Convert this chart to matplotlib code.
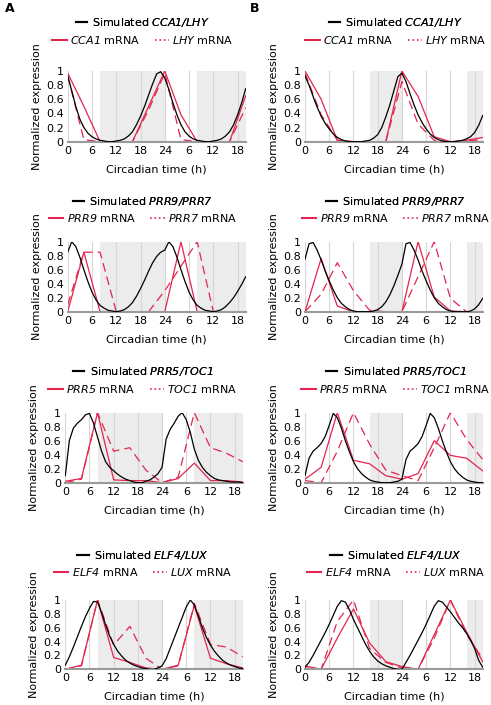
import numpy as np
import matplotlib
matplotlib.use("Agg")
import matplotlib.pyplot as plt
from matplotlib.lines import Line2D

plt.rcParams['font.family'] = ['DejaVu Sans']
plt.rcParams['font.size'] = 7
# gene names are italic, digits included
plt.rcParams['mathtext.fontset'] = 'custom'
plt.rcParams['mathtext.rm'] = 'DejaVu Sans:italic'
plt.rcParams['mathtext.it'] = 'DejaVu Sans:italic'

RED = '#e3254f'
W, H = 491, 705

# time axes (h): simulation hourly, experiments every 4 h
t_sim = np.arange(0, 45, 1)
t_exp = np.arange(0, 45, 4)

xticks = [0, 6, 12, 18, 24, 30, 36, 42]
xticklabels = ['0', '6', '12', '18', '24', '6', '12', '18']
yticks = [0, 0.2, 0.4, 0.6, 0.8, 1]
yticklabels = ['0', '0.2', '0.4', '0.6', '0.8', '1']

genes = [("CCA1/LHY", "CCA1", "LHY"),
         ("PRR9/PRR7", "PRR9", "PRR7"),
         ("PRR5/TOC1", "PRR5", "TOC1"),
         ("ELF4/LUX", "ELF4", "LUX")]

# dark periods: A = short day, B = long day
dark_A = [(8, 24), (32, 44)]
dark_B = [(16, 24), (40, 44)]

# ---------- column A (short day) ----------
simA_cca1 = [0.93, 0.72, 0.5, 0.32, 0.2, 0.12, 0.07, 0.04, 0.02, 0.01, 0.0, 0.0, 0.01, 0.02, 0.04,
             0.08, 0.14, 0.24, 0.36, 0.5, 0.66, 0.82, 0.96, 0.99, 0.9, 0.74, 0.55, 0.38, 0.24, 0.14,
             0.08, 0.04, 0.02, 0.01, 0.0, 0.0, 0.01, 0.02, 0.04, 0.08, 0.14, 0.24, 0.38, 0.55, 0.75]
expA_cca1 = [0.97, 0.5, 0.0, 0.0, 0.0, 0.5, 1.0, 0.38, 0.0, 0.0, 0.0, 0.65]
expA_lhy = [0.93, 0.03, 0.0, 0.0, 0.0, 0.45, 0.97, 0.03, 0.0, 0.0, 0.0, 0.48]

simA_prr9 = [0.85, 1.0, 0.93, 0.78, 0.6, 0.43, 0.28, 0.17, 0.09, 0.05, 0.02, 0.01, 0.0, 0.01, 0.03,
             0.07, 0.13, 0.22, 0.33, 0.45, 0.58, 0.7, 0.79, 0.85, 0.88, 1.0, 0.93, 0.78, 0.6, 0.43,
             0.28, 0.17, 0.09, 0.05, 0.02, 0.01, 0.0, 0.01, 0.03, 0.07, 0.13, 0.2, 0.29, 0.39, 0.5]
expA_prr9 = [0.0, 0.85, 0.0, 0.0, 0.0, 0.0, 0.0, 1.0, 0.0, 0.0, 0.0, 0.0]
expA_prr7 = [0.1, 0.85, 0.85, 0.0, 0.0, 0.0, 0.3, 0.65, 1.0, 0.0, 0.0, 0.0]

simA_prr5 = [0.1, 0.6, 0.78, 0.85, 0.9, 0.97, 0.99, 0.85, 0.65, 0.45, 0.3, 0.22, 0.17, 0.12, 0.08,
             0.05, 0.03, 0.01, 0.0, 0.0, 0.02, 0.04, 0.08, 0.13, 0.22, 0.62, 0.76, 0.85, 0.95, 1.0,
             0.9, 0.72, 0.48, 0.32, 0.22, 0.15, 0.1, 0.06, 0.04, 0.03, 0.02, 0.01, 0.01, 0.01, 0.0]
expA_prr5 = [0.02, 0.06, 1.0, 0.04, 0.03, 0.03, 0.0, 0.06, 0.28, 0.03, 0.03, 0.01]
expA_toc1 = [0.0, 0.05, 1.0, 0.45, 0.5, 0.18, 0.0, 0.08, 1.0, 0.5, 0.42, 0.3]

simA_elf4 = [0.06, 0.18, 0.32, 0.47, 0.62, 0.76, 0.88, 0.98, 0.97, 0.82, 0.64, 0.48, 0.36, 0.26, 0.19,
             0.13, 0.09, 0.06, 0.04, 0.02, 0.01, 0.0, 0.0, 0.02, 0.05, 0.15, 0.3, 0.45, 0.6, 0.75,
             0.9, 1.0, 0.93, 0.77, 0.6, 0.46, 0.35, 0.26, 0.19, 0.13, 0.09, 0.06, 0.04, 0.02, 0.01]
expA_elf4 = [0.0, 0.06, 1.0, 0.17, 0.1, 0.02, 0.0, 0.06, 0.92, 0.16, 0.08, 0.02]
expA_lux = [0.0, 0.05, 1.0, 0.35, 0.62, 0.16, 0.0, 0.05, 0.95, 0.36, 0.32, 0.18]

# ---------- column B (long day) ----------
simB_cca1 = [0.93, 0.8, 0.64, 0.49, 0.36, 0.26, 0.18, 0.11, 0.06, 0.03, 0.01, 0.0, 0.0, 0.0, 0.0,
             0.01, 0.02, 0.05, 0.1, 0.2, 0.35, 0.52, 0.72, 0.92, 0.97, 0.85, 0.68, 0.52, 0.38, 0.27,
             0.18, 0.11, 0.06, 0.03, 0.01, 0.0, 0.0, 0.0, 0.01, 0.02, 0.04, 0.07, 0.13, 0.23, 0.37]
expB_cca1 = [1.0, 0.6, 0.02, 0.0, 0.0, 0.0, 1.0, 0.64, 0.07, 0.0, 0.02, 0.06]
expB_lhy = [0.97, 0.38, 0.02, 0.0, 0.0, 0.0, 0.85, 0.25, 0.02, 0.0, 0.01, 0.03]

simB_prr9 = [0.75, 0.97, 0.99, 0.88, 0.74, 0.58, 0.44, 0.31, 0.2, 0.12, 0.07, 0.03, 0.01, 0.0, 0.0,
             0.0, 0.0, 0.01, 0.03, 0.07, 0.14, 0.24, 0.37, 0.52, 0.68, 0.97, 0.99, 0.88, 0.74, 0.58,
             0.44, 0.31, 0.2, 0.12, 0.07, 0.03, 0.01, 0.0, 0.0, 0.0, 0.0, 0.01, 0.04, 0.1, 0.19]
expB_prr9 = [0.0, 0.76, 0.08, 0.0, 0.0, 0.0, 0.0, 1.0, 0.21, 0.01, 0.0, 0.0]
expB_prr7 = [0.0, 0.25, 0.7, 0.3, 0.02, 0.0, 0.0, 0.5, 1.0, 0.19, 0.0, 0.0]

simB_prr5 = [0.1, 0.35, 0.45, 0.5, 0.56, 0.66, 0.82, 0.99, 0.93, 0.78, 0.6, 0.44, 0.3, 0.2, 0.13,
             0.08, 0.04, 0.02, 0.01, 0.0, 0.0, 0.0, 0.01, 0.02, 0.05, 0.33, 0.45, 0.5, 0.56, 0.66,
             0.82, 0.99, 0.93, 0.78, 0.6, 0.44, 0.3, 0.2, 0.13, 0.08, 0.04, 0.02, 0.01, 0.0, 0.0]
expB_prr5 = [0.05, 0.22, 1.0, 0.32, 0.27, 0.1, 0.05, 0.13, 0.6, 0.39, 0.35, 0.17]
expB_toc1 = [0.03, 0.0, 0.45, 1.0, 0.55, 0.18, 0.1, 0.03, 0.5, 1.0, 0.62, 0.33]

simB_elf4 = [0.03, 0.1, 0.2, 0.31, 0.42, 0.53, 0.65, 0.78, 0.91, 0.99, 0.97, 0.86, 0.72, 0.6, 0.48,
             0.36, 0.26, 0.18, 0.12, 0.08, 0.05, 0.03, 0.01, 0.0, 0.0, 0.1, 0.2, 0.31, 0.42, 0.53,
             0.65, 0.78, 0.91, 0.99, 0.97, 0.9, 0.83, 0.75, 0.67, 0.6, 0.52, 0.42, 0.3, 0.13, 0.03]
expB_elf4 = [0.05, 0.0, 0.45, 0.87, 0.38, 0.11, 0.04, 0.0, 0.5, 1.0, 0.54, 0.11]
expB_lux = [0.02, 0.0, 0.69, 1.0, 0.3, 0.1, 0.02, 0.0, 0.45, 1.0, 0.5, 0.15]

colA = [(simA_cca1, expA_cca1, expA_lhy), (simA_prr9, expA_prr9, expA_prr7),
        (simA_prr5, expA_prr5, expA_toc1), (simA_elf4, expA_elf4, expA_lux)]
colB = [(simB_cca1, expB_cca1, expB_lhy), (simB_prr9, expB_prr9, expB_prr7),
        (simB_prr5, expB_prr5, expB_toc1), (simB_elf4, expB_elf4, expB_lux)]

# layout in pixels
row_top = [71, 241.7, 412.7, 600]
row_bot = [141.7, 311.7, 482.7, 669.3]
a_lr = [(67.7, 245.7), (67.7, 245.7), (65.3, 242.7), (65.3, 242.7)]
b_lr = (305, 482.7)
leg_y = [(22.7, 40), (201, 218.3), (371.7, 389), (555, 571.7)]
leg_x = {'A': 143, 'B': 396}


def rect(l, r, t, b):
    return [l / W, 1 - b / H, (r - l) / W, (b - t) / H]


fig = plt.figure(figsize=(W / 100, H / 100), dpi=100)


def draw_panel(ax, sim, e1, e2, dark, names, col, row):
    for d0, d1 in dark:
        ax.axvspan(d0, d1, color='#ececec', lw=0, zorder=0.2)
    ax.plot(t_sim, sim, color='black', lw=0.9, zorder=3)
    ax.plot(t_exp, e1, color=RED, lw=0.9, zorder=2)
    ax.plot(t_exp, e2, color=RED, lw=0.9, dashes=(7, 4), zorder=2)
    ax.set_xlim(0, 44)
    ax.set_ylim(0, 1)
    ax.set_xticks(xticks)
    ax.set_xticklabels(xticklabels)
    ax.set_yticks(yticks)
    ax.set_yticklabels(yticklabels)
    ax.tick_params(length=0, pad=3, labelsize=8)
    ax.set_axisbelow(True)
    ax.grid(axis='x', color='#d6d6d6', lw=0.8)
    for s in ['top', 'right', 'left']:
        ax.spines[s].set_visible(False)
    ax.spines['bottom'].set_color('#9a9a9a')
    ax.spines['bottom'].set_linewidth(1.5)
    ax.set_xlabel('Circadian time (h)', fontsize=8, labelpad=6)
    ax.set_ylabel('Normalized expression', fontsize=8, labelpad=3)

    sim_name, g1, g2 = names
    x = leg_x[col] / W
    y1, y2 = leg_y[row]
    h_sim = [Line2D([], [], color='black', lw=1.5)]
    leg1 = fig.legend(h_sim, ['Simulated $' + sim_name + '$'],
                      loc='center', bbox_to_anchor=(x, 1 - y1 / H), frameon=False,
                      fontsize=8, handlelength=1.0, handletextpad=0.5, borderpad=0)
    h_exp = [Line2D([], [], color=RED, lw=1.5),
             Line2D([], [], color=RED, lw=1.2, linestyle=':')]
    fig.legend(h_exp, ['$' + g1 + '$ mRNA', '$' + g2 + '$ mRNA'],
               loc='center', bbox_to_anchor=(x, 1 - y2 / H), frameon=False, ncol=2,
               fontsize=8, handlelength=1.3, handletextpad=0.3, columnspacing=1.3,
               borderpad=0)
    fig.add_artist(leg1)


for row in range(4):
    axA = fig.add_axes(rect(a_lr[row][0], a_lr[row][1], row_top[row], row_bot[row]))
    draw_panel(axA, *colA[row], dark_A, genes[row], 'A', row)
    axB = fig.add_axes(rect(b_lr[0], b_lr[1], row_top[row], row_bot[row]))
    draw_panel(axB, *colB[row], dark_B, genes[row], 'B', row)

fig.text(5 / W, 1 - 9 / H, 'A', fontsize=9, fontweight='bold', va='center')
fig.text(250 / W, 1 - 9 / H, 'B', fontsize=9, fontweight='bold', va='center')

fig.savefig('out.png', dpi=100)
